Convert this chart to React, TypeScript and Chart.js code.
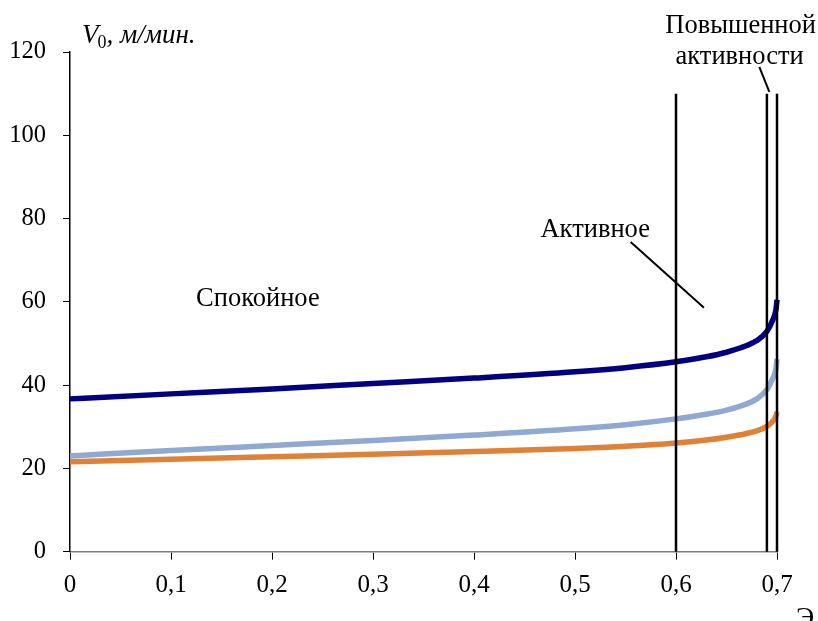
import React, { useEffect, useRef } from "react";
import { Chart, registerables } from "chart.js";

Chart.register(...registerables);

const xValues = [0, 0.1, 0.2, 0.3, 0.4, 0.5, 0.55, 0.6, 0.63, 0.65, 0.67, 0.68, 0.69, 0.695, 0.699, 0.7];
const navySeries = [36.7, 37.9, 39.1, 40.4, 41.7, 43.2, 44.2, 45.6, 46.8, 47.9, 49.5, 50.7, 52.9, 55.2, 58.2, 60.5];
const blueSeries = [23.0, 24.3, 25.5, 26.7, 28.0, 29.5, 30.5, 31.9, 33.0, 34.0, 35.5, 36.7, 38.9, 41.2, 44.0, 46.3];
const orangeSeries = [21.6, 22.2, 22.8, 23.4, 24.05, 24.8, 25.3, 26.1, 26.8, 27.5, 28.4, 29.0, 30.1, 31.1, 32.6, 33.6];

const boundaryX = [0.6, 0.69, 0.7];
const boundaryTop = 110;

const yTicks = [0, 20, 40, 60, 80, 100, 120];
const xTicks = [0, 0.1, 0.2, 0.3, 0.4, 0.5, 0.6, 0.7];

const zoneLabels = [
  { text: "Спокойное", x: 0.186, y: 60.7 },
  { text: "Активное", x: 0.52, y: 77.2 },
  { text: "Повышенной", x: 0.664, y: 126.2 },
  { text: "активности", x: 0.663, y: 118.8 },
];
const leaderActive = [
  { x: 0.5551, y: 74.4 },
  { x: 0.6277, y: 58.6 },
];
const leaderHigh = [
  { x: 0.6825, y: 116.4 },
  { x: 0.6924, y: 110.4 },
];

const SERIF = "'Liberation Serif', 'Times New Roman', serif";

export default function App() {
  const ref = useRef<HTMLCanvasElement>(null);
  useEffect(() => {
    const canvas = ref.current;
    if (!canvas) return;
    const pts = (ys: number[]) => xValues.map((x, i) => ({ x, y: ys[i] }));
    const curve = (data: any, color: string) => ({
      data,
      borderColor: color,
      borderWidth: 5.5,
      pointRadius: 0,
      fill: false,
      clip: false,
      cubicInterpolationMode: "monotone" as const,
    });
    const straight = (data: any, width: number) => ({
      data,
      borderColor: "#000000",
      borderWidth: width,
      pointRadius: 0,
      fill: false,
      clip: false,
      tension: 0,
    });
    const datasets: any[] = [
      ...boundaryX.map((bx) =>
        straight(
          [
            { x: bx, y: 0 },
            { x: bx, y: boundaryTop },
          ],
          2.5
        )
      ),
      straight(leaderActive, 2),
      straight(leaderHigh, 2),
      curve(pts(orangeSeries), "#DF8136"),
      curve(pts(blueSeries), "#8FA9D2"),
      curve(pts(navySeries), "#000080"),
    ];

    const textPlugin = {
      id: "texts",
      afterDraw(chart: any) {
        const ctx = chart.ctx;
        const xs = chart.scales.x;
        const ys = chart.scales.y;
        ctx.save();
        ctx.fillStyle = "#000";
        ctx.textBaseline = "middle";
        ctx.textAlign = "center";
        ctx.font = `26.5px ${SERIF}`;
        for (const l of zoneLabels) {
          ctx.fillText(l.text, xs.getPixelForValue(l.x), ys.getPixelForValue(l.y));
        }
        // y axis title
        ctx.textAlign = "left";
        ctx.textBaseline = "alphabetic";
        const left = chart.chartArea.left + 12;
        const base = chart.chartArea.top - 9;
        ctx.font = `italic 27px ${SERIF}`;
        ctx.fillText("V", left, base);
        let w = ctx.measureText("V").width;
        ctx.font = `18px ${SERIF}`;
        ctx.fillText("0", left + w - 1, base + 5);
        w += ctx.measureText("0").width;
        ctx.font = `italic 27px ${SERIF}`;
        ctx.fillText(", м/мин.", left + w - 1, base);
        // x axis title
        ctx.font = `28px ${SERIF}`;
        ctx.textAlign = "center";
        ctx.fillText("Э", chart.chartArea.right + 28, chart.chartArea.bottom + 74);
        ctx.restore();
      },
    };

    const chart = new Chart(canvas, {
      type: "line",
      data: { datasets },
      options: {
        animation: false,
        responsive: false,
        maintainAspectRatio: false,
        layout: { padding: { left: 0, right: 41, top: 52, bottom: 0 } },
        plugins: { legend: { display: false }, tooltip: { enabled: false } },
        scales: {
          x: {
            type: "linear",
            min: 0,
            max: 0.7,
            afterBuildTicks: (s: any) => {
              s.ticks = xTicks.map((v) => ({ value: v }));
            },
            afterFit: (s: any) => {
              s.height = 69.3;
            },
            grid: { drawOnChartArea: false, drawTicks: true, tickLength: 8, color: "#000", lineWidth: 1 },
            border: { display: true, color: "#808080", width: 1.5 },
            ticks: {
              color: "#000",
              padding: 11,
              font: { family: SERIF, size: 25 },
              maxRotation: 0,
              callback: (v: any) => (Number(v) === 0 ? "0" : Number(v).toFixed(1).replace(".", ",")),
            },
          },
          y: {
            type: "linear",
            min: 0,
            max: 120,
            afterBuildTicks: (s: any) => {
              s.ticks = yTicks.map((v) => ({ value: v }));
            },
            afterFit: (s: any) => {
              s.width = 70;
            },
            grid: { drawOnChartArea: false, drawTicks: true, tickLength: 7, color: "#000", lineWidth: 1 },
            border: { display: true, color: "#000", width: 1.5 },
            ticks: {
              color: "#000",
              padding: 17,
              font: { family: SERIF, size: 24.5 },
              callback: (v: any) => String(v),
            },
          },
        },
      },
      plugins: [textPlugin],
    });
    return () => chart.destroy();
  }, []);
  return (
    <div style={{ position: "fixed", left: 0, top: 0, width: 818, height: 621, background: "#fff" }}>
      <canvas ref={ref} width={818} height={621} style={{ display: "block" }} />
    </div>
  );
}
